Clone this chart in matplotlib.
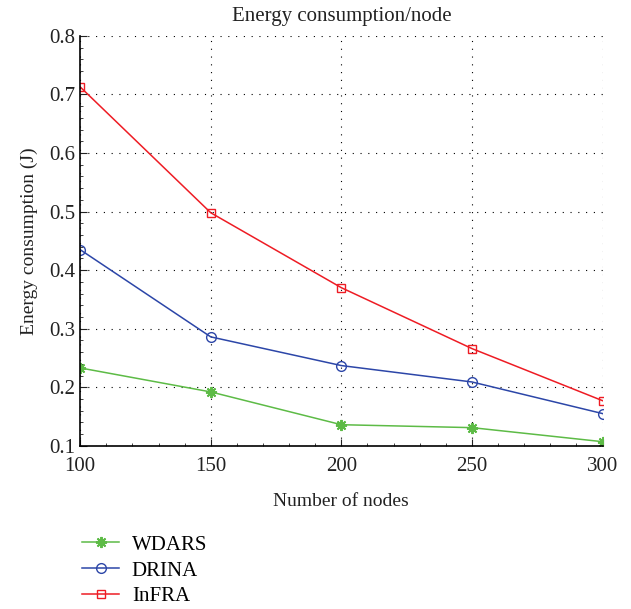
import matplotlib
matplotlib.use("Agg")
import matplotlib.pyplot as plt
from matplotlib.ticker import MultipleLocator

nodes = [100, 150, 200, 250, 300]
wdars = [0.233, 0.192, 0.136, 0.131, 0.107]
drina = [0.435, 0.286, 0.237, 0.209, 0.155]
infra = [0.713, 0.498, 0.370, 0.266, 0.177]

plt.rcParams['font.family'] = ['Liberation Serif', 'DejaVu Serif']

fig = plt.figure(figsize=(6.31, 6.09), dpi=100)
ax = fig.add_axes([0.127, 0.268, 0.828, 0.673])

l1, = ax.plot(nodes, wdars, color='#5dbb46', marker=(8, 2, 0), markersize=8, mew=1.4, mec='#5dbb46', lw=1.1, label='WDARS')
l2, = ax.plot(nodes, drina, color='#2c46a8', marker='o', markersize=7, mfc='none', mec='#2c46a8', lw=1.1, label='DRINA')
l3, = ax.plot(nodes, infra, color='#ee1c24', marker='s', markersize=6, mfc='none', mec='#ee1c24', lw=1.1, label='InFRA')

ax.set_xlim(100, 300)
ax.set_ylim(0.1, 0.8)
ax.xaxis.set_major_locator(MultipleLocator(50))
ax.yaxis.set_major_locator(MultipleLocator(0.1))
ax.xaxis.set_minor_locator(MultipleLocator(10))
ax.yaxis.set_minor_locator(MultipleLocator(0.02))
ax.grid(True, which='major', color='black', linestyle=(0, (1, 6)), linewidth=0.8)
for s in ['top', 'right']:
    ax.spines[s].set_visible(False)
ax.spines['left'].set_linewidth(1.2)
ax.spines['bottom'].set_linewidth(1.2)
ax.tick_params(which='both', direction='in', labelsize=15, colors='#222222')
ax.tick_params(which='major', length=5)
ax.tick_params(which='minor', length=2.5)
ax.tick_params(axis='x', pad=8)
ax.set_yticks([0.1, 0.2, 0.3, 0.4, 0.5, 0.6, 0.7, 0.8])
ax.set_yticklabels(['0.1', '0.2', '0.3', '0.4', '0.5', '0.6', '0.7', '0.8'])

ax.set_title('Energy consumption/node', fontsize=15, color='#222222', pad=11)
ax.set_xlabel('Number of nodes', fontsize=14, color='#222222', labelpad=12)
ax.set_ylabel('Energy consumption (J)', fontsize=14, color='#222222', labelpad=8)

fig.legend(handles=[l1, l2, l3], loc='upper left', bbox_to_anchor=(0.1, 0.152), frameon=False,
           fontsize=15, handlelength=1.8, labelspacing=0.3, handletextpad=0.6)

fig.savefig('out.png', dpi=100)
